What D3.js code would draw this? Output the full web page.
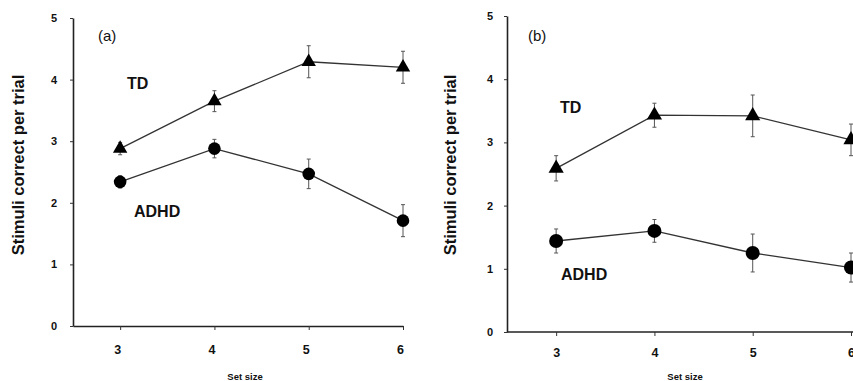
<!DOCTYPE html>
<html>
<head>
<meta charset="utf-8">
<script src="https://cdn.jsdelivr.net/npm/d3@7"></script>
<style>
  body { margin: 0; background: #fff; }
  svg { display: block; }
  text { font-family: "Liberation Sans", Arial, sans-serif; fill: #111; }
</style>
</head>
<body>
<svg id="chart" width="853" height="381"></svg>
<script>
// set sizes on the x axis
var setSizes = [3, 4, 5, 6];
var yTicks = [0, 1, 2, 3, 4, 5];

// panel (a)
var tdA = [2.88, 3.65, 4.29, 4.20];
var tdAErr = [0.10, 0.17, 0.26, 0.26];
var adhdA = [2.34, 2.88, 2.47, 1.71];
var adhdAErr = [0.10, 0.15, 0.24, 0.26];

// panel (b)
var tdB = [2.59, 3.43, 3.42, 3.04];
var tdBErr = [0.20, 0.19, 0.33, 0.25];
var adhdB = [1.44, 1.60, 1.25, 1.02];
var adhdBErr = [0.19, 0.18, 0.30, 0.23];

var svg = d3.select('#chart');

function drawPanel(p) {
  var g = svg.append('g');
  var x = d3.scaleLinear().domain([2.5, 6]).range([p.left, p.right]);
  var y = d3.scaleLinear().domain([0, 5]).range([p.bottom, p.top]);

  // axes
  var xAxis = g.append('g')
    .attr('transform', 'translate(0,' + p.bottom + ')')
    .call(d3.axisBottom(x).tickValues(setSizes).tickFormat(d3.format('d'))
      .tickSize(4).tickSizeOuter(0).tickPadding(p.xPad));
  var yAxis = g.append('g')
    .attr('transform', 'translate(' + p.left + ',0)')
    .call(d3.axisLeft(y).tickValues(yTicks).tickFormat(d3.format('d'))
      .tickSize(3).tickSizeOuter(0).tickPadding(p.yPad));

  [xAxis, yAxis].forEach(function (a) {
    a.select('.domain').attr('stroke', '#222').attr('stroke-width', 1.6);
    a.selectAll('.tick line').attr('stroke', '#333').attr('stroke-width', 1);
    a.selectAll('.tick text')
      .style('font-family', '"Liberation Sans", Arial, sans-serif')
      .style('font-weight', 'bold')
      .attr('fill', '#222');
  });
  xAxis.selectAll('.tick text').style('font-size', '12.5px').attr('dx', p.xDx);
  yAxis.selectAll('.tick text').style('font-size', '11px');
  if (p.extendX) {
    xAxis.select('.domain').attr('d', 'M' + p.left + ',0H853');
  }

  // axis titles
  g.append('text')
    .attr('x', (p.left + p.right) / 2 + p.titleDx)
    .attr('y', 380)
    .attr('text-anchor', 'middle')
    .style('font-size', '9.5px')
    .style('font-weight', 'bold')
    .text('Set size');

  g.append('text')
    .attr('transform', 'translate(' + p.yTitleX + ',' + 165 + ') rotate(-90)')
    .attr('text-anchor', 'middle')
    .attr('dy', '0.35em')
    .style('font-size', '16.5px')
    .style('font-weight', 'bold')
    .text('Stimuli correct per trial');

  // panel letter
  g.append('text')
    .attr('x', p.letterX)
    .attr('y', 41)
    .style('font-size', '15px')
    .text(p.letter);

  function series(vals, errs, marker) {
    var pts = setSizes.map(function (s, i) { return { s: s, v: vals[i], e: errs[i] }; });

    // error bars
    var eb = g.append('g').attr('stroke', '#555').attr('stroke-width', 1);
    eb.selectAll('line.v').data(pts).enter().append('line')
      .attr('x1', function (d) { return x(d.s); })
      .attr('x2', function (d) { return x(d.s); })
      .attr('y1', function (d) { return y(d.v + d.e); })
      .attr('y2', function (d) { return y(d.v - d.e); });
    eb.selectAll('line.t').data(pts).enter().append('line')
      .attr('x1', function (d) { return x(d.s) - 2; })
      .attr('x2', function (d) { return x(d.s) + 2; })
      .attr('y1', function (d) { return y(d.v + d.e); })
      .attr('y2', function (d) { return y(d.v + d.e); });
    eb.selectAll('line.b').data(pts).enter().append('line')
      .attr('x1', function (d) { return x(d.s) - 2; })
      .attr('x2', function (d) { return x(d.s) + 2; })
      .attr('y1', function (d) { return y(d.v - d.e); })
      .attr('y2', function (d) { return y(d.v - d.e); });

    var line = d3.line()
      .x(function (d) { return x(d.s); })
      .y(function (d) { return y(d.v); });
    g.append('path')
      .datum(pts)
      .attr('d', line)
      .attr('fill', 'none')
      .attr('stroke', '#333')
      .attr('stroke-width', 1.3);

    if (marker === 'triangle') {
      g.selectAll(null).data(pts).enter().append('path')
        .attr('d', d3.symbol().type(d3.symbolTriangle).size(p.triSize))
        .attr('transform', function (d) { return 'translate(' + x(d.s) + ',' + y(d.v) + ')'; })
        .attr('fill', '#000');
    } else {
      g.selectAll(null).data(pts).enter().append('circle')
        .attr('cx', function (d) { return x(d.s); })
        .attr('cy', function (d) { return y(d.v); })
        .attr('r', p.r)
        .attr('fill', '#000');
    }
  }

  series(p.td, p.tdErr, 'triangle');
  series(p.adhd, p.adhdErr, 'circle');

  // group labels
  g.append('text')
    .attr('x', p.tdLabel[0]).attr('y', p.tdLabel[1])
    .attr('dy', '0.36em')
    .style('font-size', '16px').style('font-weight', 'bold')
    .text('TD');
  g.append('text')
    .attr('x', p.adhdLabel[0]).attr('y', p.adhdLabel[1])
    .attr('dy', '0.36em')
    .style('font-size', '16px').style('font-weight', 'bold')
    .text('ADHD');
}

drawPanel({
  left: 73, right: 403, top: 18, bottom: 326,
  xPad: 15, yPad: 13, xDx: -3, titleDx: 7, yTitleX: 18,
  letter: '(a)', letterX: 98,
  td: tdA, tdErr: tdAErr, adhd: adhdA, adhdErr: adhdAErr,
  tdLabel: [127, 83], adhdLabel: [134, 211],
  triSize: 90, r: 6.3, extendX: false
});

drawPanel({
  left: 507, right: 851, top: 16, bottom: 332,
  xPad: 12, yPad: 11, xDx: 0, titleDx: 6, yTitleX: 450,
  letter: '(b)', letterX: 528,
  td: tdB, tdErr: tdBErr, adhd: adhdB, adhdErr: adhdBErr,
  tdLabel: [560, 107], adhdLabel: [561, 274],
  triSize: 100, r: 7, extendX: true
});
</script>
</body>
</html>
